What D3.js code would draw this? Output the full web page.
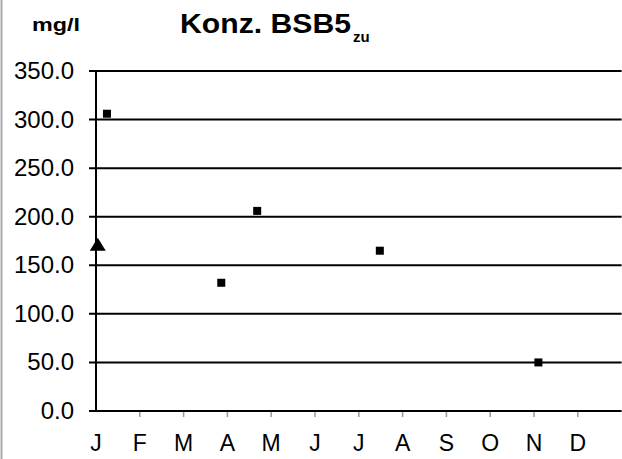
<!DOCTYPE html>
<html>
<head>
<meta charset="utf-8">
<script src="https://cdn.jsdelivr.net/npm/d3@7"></script>
<style>
  body { margin: 0; background: #fff; }
  text { font-family: "Liberation Sans", Arial, Helvetica, sans-serif; fill: #000; }
</style>
</head>
<body>
<div class="container"></div>
<script>
// month labels on the x axis
const months = ['J', 'F', 'M', 'A', 'M', 'J', 'J', 'A', 'S', 'O', 'N', 'D'];
// y axis ticks (mg/l)
const yTicks = [0, 50, 100, 150, 200, 250, 300, 350];
// square markers: position in months (0 = start of Jan) and value
const sqMonth = [0.25, 2.86, 3.68, 6.48, 10.1];
const sqValue = [306, 132, 206, 165, 50];
// triangle marker
const triMonth = [0.04];
const triValue = [170];

const width = 622;
const height = 459;

const x = d3.scaleLinear().domain([0, 12]).range([96, 621.6]);
const y = d3.scaleLinear().domain([0, 350]).range([411, 71]);

const svg = d3.select('.container')
  .append('svg')
  .attr('width', width)
  .attr('height', height);

svg.append('rect').attr('width', width).attr('height', height).attr('fill', '#fff');

// faint scan border on the left
svg.append('line')
  .attr('x1', 1.5).attr('x2', 1.5).attr('y1', 0).attr('y2', height)
  .attr('stroke', '#aaa').attr('stroke-width', 2);

// stretch a text to a given width
function fitTo(sel, w) {
  sel.attr('textLength', w).attr('lengthAdjust', 'spacingAndGlyphs');
}

// gridlines
svg.append('g')
  .selectAll('line')
  .data(yTicks)
  .join('line')
  .attr('x1', x(0) - 7)
  .attr('x2', x(12))
  .attr('y1', d => y(d))
  .attr('y2', d => y(d))
  .attr('stroke', '#000')
  .attr('stroke-width', 2);

// y axis line
svg.append('line')
  .attr('x1', x(0)).attr('x2', x(0))
  .attr('y1', y(350)).attr('y2', y(0))
  .attr('stroke', '#000').attr('stroke-width', 2);

// x ticks (gray, below axis)
svg.append('g')
  .selectAll('line')
  .data(d3.range(1, 12))
  .join('line')
  .attr('x1', d => x(d)).attr('x2', d => x(d))
  .attr('y1', y(0) + 1).attr('y2', y(0) + 6)
  .attr('stroke', '#999').attr('stroke-width', 1.5);

// y labels
svg.append('g')
  .selectAll('text')
  .data(yTicks)
  .join('text')
  .attr('x', 74)
  .attr('y', d => y(d) + 8)
  .attr('text-anchor', 'end')
  .attr('font-size', 24)
  .text(d => d.toFixed(1));

// x labels
svg.append('g')
  .selectAll('text')
  .data(months)
  .join('text')
  .attr('x', (d, i) => x(i))
  .attr('y', 451)
  .attr('text-anchor', 'middle')
  .attr('font-size', 23)
  .text(d => d);

// square points
svg.append('g')
  .selectAll('rect')
  .data(sqMonth.map((m, i) => [m, sqValue[i]]))
  .join('rect')
  .attr('x', d => x(d[0]) - 4)
  .attr('y', d => y(d[1]) - 4)
  .attr('width', 8)
  .attr('height', 8)
  .attr('fill', '#000');

// triangle points
svg.append('g')
  .selectAll('path')
  .data(triMonth.map((m, i) => [m, triValue[i]]))
  .join('path')
  .attr('transform', d => `translate(${x(d[0])},${y(d[1])})`)
  .attr('d', 'M0,-8 L8,5 L-8,5 Z')
  .attr('fill', '#000');

// unit label
svg.append('text')
  .attr('x', 32).attr('y', 31)
  .attr('font-size', 18).attr('font-weight', 'bold')
  .text('mg/l')
  .call(fitTo, 48);

// title
svg.append('text')
  .attr('x', 180).attr('y', 33)
  .attr('font-size', 27).attr('font-weight', 'bold')
  .text('Konz. BSB5')
  .call(fitTo, 171);

svg.append('text')
  .attr('x', 353).attr('y', 42)
  .attr('font-size', 15).attr('font-weight', 'bold')
  .text('zu');
</script>
</body>
</html>
